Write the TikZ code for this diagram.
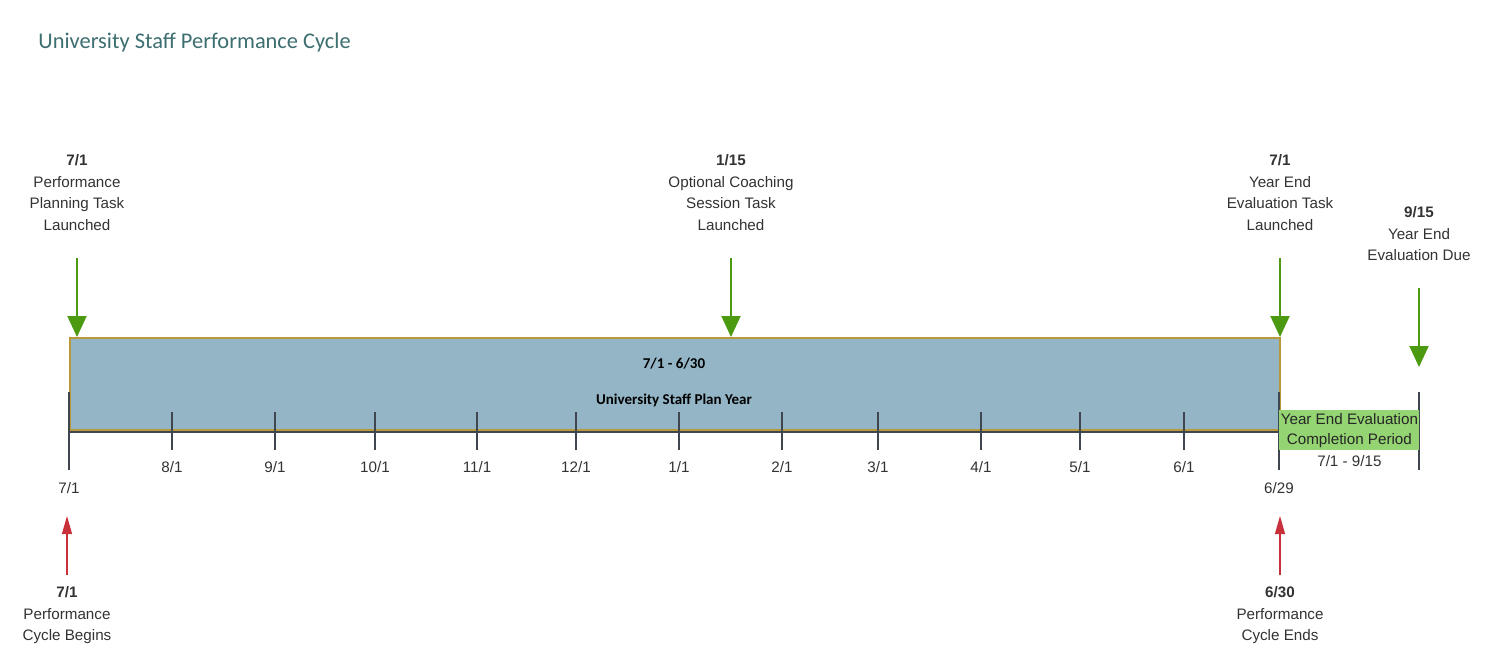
\documentclass[tikz,border=0pt]{standalone}
\usepackage{fontspec}
\setmainfont{Liberation Sans}
\newfontfamily\calfont{Carlito}
\usetikzlibrary{arrows.meta}
\definecolor{planblue}{HTML}{93B5C6}
\definecolor{plangold}{HTML}{B8983A}
\definecolor{axisgray}{HTML}{3F4650}
\definecolor{taskgreen}{HTML}{4C9A12}
\definecolor{periodgreen}{HTML}{94D472}
\definecolor{cyclered}{HTML}{C8303C}
\definecolor{titleteal}{HTML}{3D6E70}
\newcommand{\lb}{\fontsize{7.6}{10.8}\selectfont}

\begin{document}
\begin{tikzpicture}[x=0.5pt,y=-0.5pt,
  lbl/.style={font=\lb,align=center,text=black!80,inner sep=0pt},
  tick/.style={axisgray,line width=0.7pt},
  taskarrow/.style={taskgreen,line width=1pt,-{Triangle[width=9.5pt,length=10.5pt]}},
  cyclearrow/.style={cyclered,line width=0.6pt,-{Triangle[width=5pt,length=9pt]}}]
   \fill[white] (0,0) rectangle (1500,670);
   \useasboundingbox (0,0) rectangle (1500,670);
   \node[anchor=base west,inner sep=0pt,text=titleteal,font=\calfont\fontsize{11.2}{13}\selectfont] (title) at (38,48) {University Staff Performance Cycle};
   % plan year box and axis
   \node[draw=plangold,fill=planblue,line width=1pt,anchor=north west,minimum width=605pt,minimum height=46pt,inner sep=0pt] (plan) at (69,337) {};
   \node[font=\calfont\bfseries\fontsize{7.5}{9}\selectfont,inner sep=0pt] (range) at (674,364) {7/1 - 6/30};
   \node[font=\calfont\bfseries\fontsize{7.5}{9}\selectfont,inner sep=0pt] (planname) at (674,400) {University Staff Plan Year};
   \draw[axisgray,line width=0.8pt] (69,432) -- (1279,432);
   \foreach \x/\mo/\d in {172/8/1,275/9/1,375/10/1,477/11/1,576/12/1,679/1/1,782/2/1,878/3/1,981/4/1,1080/5/1,1184/6/1} {
     \draw[tick] (\x,412) -- (\x,450);
     \node[lbl] (m\mo) at (\x,467) {\mo/\d};
   }
   \foreach \x/\n in {69/start,1279/end,1419/due} {
     \draw[tick] (\x,392) -- (\x,470);
   }
   \node[lbl] (d0) at (69,488) {7/1};
   \node[lbl] (d1) at (1279,488) {6/29};
   % completion period
   \node[fill=periodgreen,anchor=north west,minimum width=70pt,minimum height=20pt,inner sep=0pt,font=\lb,align=center,text=black!85] (period) at (1279,410) {Year End Evaluation\\[-0.6pt]Completion Period};
   \node[lbl,anchor=north] (periodrange) at (period.south) {\rule{0pt}{7.5pt}7/1 - 9/15};
   % tasks
   \node[lbl,anchor=north] (t1) at (77,154) {\textbf{7/1}\\Performance\\Planning Task\\Launched};
   \node[lbl,anchor=north] (t2) at (731,154) {\textbf{1/15}\\Optional Coaching\\Session Task\\Launched};
   \node[lbl,anchor=north] (t3) at (1280,154) {\textbf{7/1}\\Year End\\Evaluation Task\\Launched};
   \node[lbl,anchor=north] (t4) at (1419,206) {\textbf{9/15}\\Year End\\Evaluation Due};
   \coordinate (a1) at (77,258);
   \coordinate (a2) at (731,258);
   \coordinate (a3) at (1280,258);
   \coordinate (a4) at (1419,288);
   \coordinate (e4) at (1419,367);
   \draw[taskarrow] (a1) -- (a1 |- plan.north);
   \draw[taskarrow] (a2) -- (a2 |- plan.north);
   \draw[taskarrow] (a3) -- (a3 |- plan.north);
   \draw[taskarrow] (a4) -- (e4);
   % cycle begins / ends
   \node[lbl,anchor=north] (c1) at (67,586) {\textbf{7/1}\\Performance\\Cycle Begins};
   \node[lbl,anchor=north] (c2) at (1280,586) {\textbf{6/30}\\Performance\\Cycle Ends};
   \coordinate (r1) at (67,516);
   \coordinate (r2) at (1280,516);
   \draw[cyclearrow] (c1.north) ++(0,-11) coordinate (s1) -- (r1);
   \draw[cyclearrow] (c2.north) ++(0,-11) coordinate (s2) -- (r2);
  \end{tikzpicture}
\end{document}
